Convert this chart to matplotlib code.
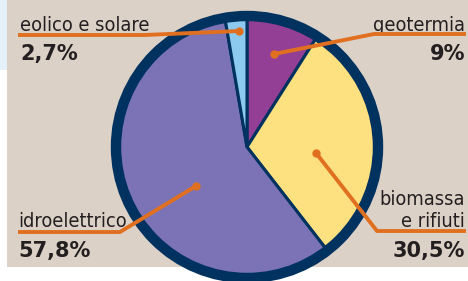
import matplotlib.pyplot as plt
import matplotlib.patches as patches
from matplotlib.font_manager import FontProperties

# shares of renewable sources (clockwise from the top)
labels = ['geotermia', 'biomassa\ne rifiuti', 'idroelettrico', 'eolico e solare']
values = [9.0, 30.5, 57.8, 2.7]
pct_text = ['9%', '30,5%', '57,8%', '2,7%']
colors = ['#943f96', '#fde07f', '#7b73b6', '#8ccbef']

navy = '#00325f'
orange = '#e07020'
ink = '#231f20'
beige = '#dcd1c7'

# narrow face for the names, bold for the numbers
name_fp = FontProperties(family='DejaVu Sans', stretch='condensed', size=14.3)
pct_fp = FontProperties(family='DejaVu Sans', weight='bold', size=15)

fig = plt.figure(figsize=(4.68, 2.81), dpi=100)
fig.patch.set_facecolor('white')
ax = fig.add_axes([0, 0, 1, 1])

# beige panel and the faint blue smear on the left
ax.add_patch(patches.Rectangle((7, 0), 461, 267, facecolor=beige, edgecolor='none', zorder=0))
ax.add_patch(patches.Rectangle((0, 0), 7, 70, facecolor='#e4f1f9', edgecolor='none', zorder=0))

cx, cy, r = 247, 147, 130
ax.pie(values, colors=colors, startangle=270, counterclock=True,
       center=(cx, cy), radius=r,
       wedgeprops=dict(edgecolor=navy, linewidth=2.2))
ax.add_patch(patches.Circle((cx, cy), r + 1, fill=False, edgecolor=navy, lw=7.5, zorder=3))

ax.set_xlim(0, 468)
ax.set_ylim(281, 0)
ax.axis('off')

# leader lines: dot inside the slice, elbow, underline
leaders = {
    'eolico e solare': [(239, 31), (145, 35), (18, 35)],
    'geotermia': [(274, 54), (374, 34), (466, 34)],
    'biomassa\ne rifiuti': [(316, 153), (377, 231), (466, 231)],
    'idroelettrico': [(196, 186), (120, 232), (18, 232)],
}
for name, pts in leaders.items():
    xs = [p[0] for p in pts]
    ys = [p[1] for p in pts]
    ax.plot(xs, ys, color=orange, lw=2.8, solid_capstyle='butt', zorder=5)
    ax.plot(xs[0], ys[0], 'o', color=orange, ms=5, zorder=5)

# label text
ax.text(20, 31, labels[3], color=ink, ha='left', va='baseline', fontproperties=name_fp)
ax.text(20, 60, pct_text[3], color=ink, ha='left', va='baseline', fontproperties=pct_fp)

ax.text(465, 31, labels[0], color=ink, ha='right', va='baseline', fontproperties=name_fp)
ax.text(465, 60, pct_text[0], color=ink, ha='right', va='baseline', fontproperties=pct_fp)

ax.text(465, 205, 'biomassa', color=ink, ha='right', va='baseline', fontproperties=name_fp)
ax.text(465, 227, 'e rifiuti', color=ink, ha='right', va='baseline', fontproperties=name_fp)
ax.text(465, 257, pct_text[1], color=ink, ha='right', va='baseline', fontproperties=pct_fp)

ax.text(18, 227, labels[2], color=ink, ha='left', va='baseline', fontproperties=name_fp)
ax.text(18, 257, pct_text[2], color=ink, ha='left', va='baseline', fontproperties=pct_fp)

fig.savefig('out.png', dpi=100, facecolor='white')
